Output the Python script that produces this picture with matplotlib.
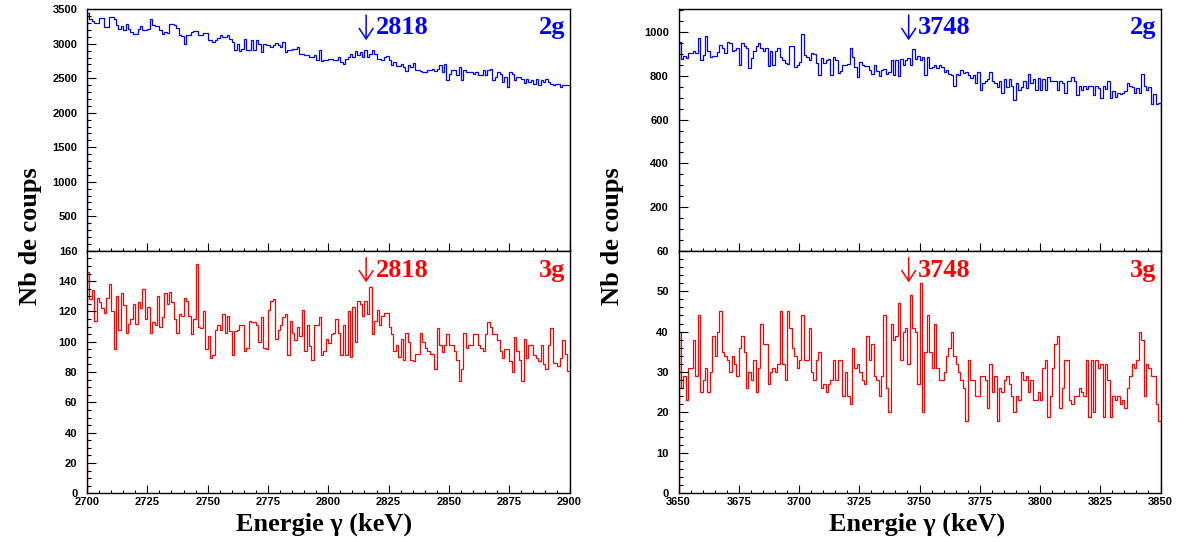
import numpy as np
import matplotlib
matplotlib.use("Agg")
import matplotlib.pyplot as plt
from matplotlib.ticker import MultipleLocator, FixedLocator

# ---------------- data (counts per 1 keV bin) ----------------
range_left = (2700, 2900)
range_right = (3650, 3850)

counts_2g_left = [
    3440, 3364, 3331, 3302, 3302, 3379, 3379, 3244, 3244, 3389,
    3389, 3364, 3268, 3220, 3253, 3195, 3292, 3220, 3171, 3147,
    3147, 3220, 3253, 3205, 3195, 3220, 3364, 3268, 3253, 3253,
    3195, 3147, 3171, 3157, 3292, 3292, 3268, 3234, 3123, 3113,
    2992, 3132, 3132, 3171, 3186, 3186, 3123, 3123, 3157, 3157,
    3050, 3060, 3026, 3060, 3089, 3123, 3099, 3099, 3132, 3075,
    3026, 2906, 3002, 2896, 2930, 3075, 2906, 2906, 3050, 2906,
    3060, 3002, 2881, 3002, 2978, 2978, 2954, 2978, 3012, 2978,
    2954, 3026, 2881, 2906, 2906, 2930, 2930, 2954, 2857, 2857,
    2833, 2833, 2809, 2809, 2833, 2770, 2906, 2751, 2761, 2761,
    2785, 2785, 2761, 2761, 2809, 2736, 2712, 2785, 2809, 2857,
    2809, 2896, 2833, 2881, 2809, 2906, 2809, 2857, 2915, 2857,
    2785, 2785, 2761, 2809, 2819, 2761, 2688, 2736, 2674, 2674,
    2712, 2664, 2606, 2688, 2664, 2722, 2625, 2616, 2606, 2591,
    2591, 2616, 2616, 2640, 2601, 2640, 2688, 2591, 2712, 2471,
    2567, 2616, 2616, 2543, 2664, 2471, 2616, 2591, 2591, 2591,
    2567, 2591, 2543, 2543, 2616, 2543, 2616, 2640, 2471, 2519,
    2591, 2567, 2447, 2519, 2374, 2591, 2567, 2471, 2519, 2519,
    2495, 2432, 2495, 2447, 2471, 2423, 2495, 2398, 2471, 2447,
    2485, 2447, 2423, 2398, 2423, 2423, 2374, 2398, 2398, 2398,
]

counts_3g_left = [
    146, 128, 134, 114, 129, 126, 122, 119, 129, 138,
    120, 95, 130, 108, 132, 124, 106, 112, 115, 125,
    112, 126, 122, 135, 115, 123, 106, 113, 111, 130,
    110, 116, 132, 125, 133, 126, 115, 106, 118, 117,
    129, 127, 117, 105, 115, 151, 110, 109, 120, 95,
    104, 89, 91, 108, 111, 108, 118, 106, 117, 107,
    91, 107, 108, 111, 111, 94, 96, 114, 113, 113,
    111, 100, 116, 96, 95, 121, 127, 128, 102, 108,
    111, 116, 118, 91, 114, 106, 101, 110, 104, 121,
    94, 111, 97, 88, 111, 111, 116, 91, 94, 102,
    99, 105, 106, 115, 106, 91, 111, 91, 120, 90,
    123, 100, 127, 125, 117, 127, 118, 136, 105, 114,
    121, 111, 117, 119, 119, 110, 105, 94, 98, 90,
    102, 88, 106, 100, 88, 87, 92, 92, 106, 100,
    96, 94, 92, 92, 82, 109, 98, 93, 98, 105,
    98, 98, 94, 88, 74, 82, 106, 96, 98, 98,
    105, 105, 98, 96, 94, 105, 113, 110, 105, 105,
    101, 94, 89, 95, 95, 87, 80, 103, 94, 88,
    74, 102, 89, 98, 98, 91, 89, 87, 98, 85,
    82, 98, 109, 86, 86, 84, 89, 101, 92, 81,
]

counts_2g_right = [
    957, 877, 892, 881, 907, 904, 916, 907, 973, 874,
    896, 983, 916, 889, 892, 892, 910, 942, 927, 904,
    957, 953, 912, 919, 927, 851, 950, 935, 927, 836,
    881, 912, 935, 953, 927, 912, 927, 846, 912, 851,
    912, 930, 885, 874, 861, 855, 939, 938, 843, 851,
    866, 991, 896, 885, 871, 904, 901, 861, 805, 881,
    860, 874, 877, 805, 885, 874, 813, 822, 851, 851,
    854, 930, 885, 840, 797, 866, 851, 846, 846, 828,
    810, 851, 821, 800, 828, 831, 810, 820, 871, 805,
    874, 800, 877, 851, 874, 881, 851, 922, 877, 892,
    871, 889, 805, 889, 836, 843, 851, 836, 851, 843,
    820, 828, 810, 805, 755, 810, 805, 828, 813, 820,
    805, 790, 805, 770, 820, 737, 767, 775, 785, 820,
    775, 770, 749, 778, 724, 785, 749, 785, 756, 691,
    770, 737, 749, 775, 744, 810, 770, 785, 737, 790,
    734, 785, 737, 794, 779, 775, 779, 737, 779, 770,
    724, 779, 775, 794, 775, 714, 752, 737, 752, 740,
    755, 752, 714, 755, 744, 698, 756, 740, 778, 698,
    729, 706, 721, 718, 721, 729, 770, 752, 749, 724,
    744, 721, 810, 752, 737, 749, 673, 718, 673, 676,
]

counts_3g_right = [
    40, 26, 29, 23, 31, 31, 38, 29, 44, 25,
    28, 31, 25, 30, 39, 34, 40, 45, 35, 34,
    33, 30, 34, 32, 29, 36, 39, 35, 26, 30,
    28, 33, 25, 31, 42, 37, 37, 27, 30, 31,
    30, 32, 45, 32, 28, 45, 41, 36, 34, 31,
    33, 44, 33, 33, 41, 30, 28, 33, 35, 26,
    27, 25, 27, 28, 33, 28, 33, 33, 24, 30,
    24, 22, 36, 31, 32, 30, 28, 27, 39, 33,
    37, 29, 28, 24, 29, 44, 26, 20, 42, 38,
    39, 47, 33, 40, 41, 32, 49, 41, 40, 27,
    52, 20, 35, 44, 35, 31, 42, 31, 28, 28,
    30, 34, 36, 40, 34, 32, 30, 28, 26, 18,
    33, 28, 28, 24, 24, 29, 29, 28, 21, 32,
    25, 29, 18, 26, 25, 28, 29, 27, 24, 20,
    24, 23, 30, 28, 29, 25, 28, 23, 23, 25,
    23, 31, 33, 19, 24, 31, 37, 39, 21, 26,
    33, 33, 23, 22, 24, 24, 26, 25, 24, 33,
    19, 33, 20, 33, 31, 32, 19, 32, 28, 19,
    24, 23, 24, 22, 23, 21, 26, 29, 32, 31,
    33, 40, 38, 24, 32, 31, 29, 29, 22, 18,
]

peak_left = "2818"
peak_right = "3748"
label_2g = "2g"
label_3g = "3g"
xticks_left = [2700, 2725, 2750, 2775, 2800, 2825, 2850, 2875, 2900]
xticks_right = [3650, 3675, 3700, 3725, 3750, 3775, 3800, 3825, 3850]

# ---------------- figure ----------------
W, H = 1184, 542
fig = plt.figure(figsize=(W / 100, H / 100), dpi=100)

SERIF = ["Liberation Serif", "DejaVu Serif"]
SANS = ["Liberation Sans", "DejaVu Sans"]
NARROW = ["Liberation Sans Narrow", "Liberation Sans", "DejaVu Sans"]


def ax_at(x0, y0, x1, y1):
    return fig.add_axes([x0 / W, 1 - y1 / H, (x1 - x0) / W, (y1 - y0) / H])


def style(ax, rng, xticks, ylim, ymin, ylabels, show_x, color, vals, peak, tag,
          arrow_x, num_x, base_y, arrow_top, arrow_bot):
    edges = np.arange(rng[0], rng[1] + 1, 1)
    ax.stairs(vals, edges, baseline=0, color=color, lw=0.9)
    ax.set_xlim(rng)
    ax.set_ylim(ylim)
    ax.xaxis.set_major_locator(FixedLocator(xticks))
    ax.xaxis.set_minor_locator(MultipleLocator(5))
    ax.yaxis.set_major_locator(FixedLocator(ylabels))
    ax.yaxis.set_minor_locator(MultipleLocator(ymin))
    for s in ax.spines.values():
        s.set_linewidth(1.0)
    ax.tick_params(axis="y", which="major", direction="in", length=6.2, width=0.8,
                   left=True, right=False, pad=7, labelsize=8)
    ax.tick_params(axis="y", which="minor", direction="in", length=3.2, width=0.8,
                   left=True, right=False)
    ax.tick_params(axis="x", which="major", direction="in", length=5.5, width=0.8,
                   bottom=True, top=False, labelbottom=show_x, pad=3, labelsize=8)
    ax.tick_params(axis="x", which="minor", direction="in", length=2.5, width=0.8,
                   bottom=True, top=False)
    for lab in ax.get_yticklabels():
        lab.set_family(SANS)
        lab.set_fontweight("bold")
    for lab in ax.get_xticklabels():
        lab.set_family(NARROW)
        lab.set_fontweight("bold")
    ax.annotate("", xy=(arrow_x, arrow_bot), xytext=(arrow_x, arrow_top),
                xycoords="axes fraction", textcoords="axes fraction",
                arrowprops=dict(arrowstyle="->, head_length=0.75, head_width=0.5",
                                color=color, lw=1.1, shrinkA=0, shrinkB=0))
    ax.text(num_x, base_y, peak, transform=ax.transAxes, color=color,
            fontsize=19, family=SERIF, fontweight="bold", ha="left", va="baseline")
    ax.text(0.991, base_y, tag, transform=ax.transAxes, color=color,
            fontsize=19, family=SERIF, fontweight="bold", ha="right", va="baseline")


BLUE = "#0000ff"
RED = "#ff0000"

ax_tl = ax_at(87, 9.3, 569.5, 250.8)
style(ax_tl, range_left, xticks_left, (0, 3500), 100,
      [500, 1000, 1500, 2000, 2500, 3000, 3500], False, BLUE, counts_2g_left,
      peak_left, label_2g, 0.5785, 0.599, 0.8965, 0.976, 0.872)

ax_bl = ax_at(87, 250.8, 569.5, 493.3)
style(ax_bl, range_left, xticks_left, (0, 160), 5,
      list(range(0, 161, 20)), True, RED, counts_3g_left,
      peak_left, label_3g, 0.5785, 0.599, 0.893, 0.972, 0.870)

ax_tr = ax_at(678.5, 9.3, 1160.5, 250.8)
style(ax_tr, range_right, xticks_right, (0, 1105), 50,
      [200, 400, 600, 800, 1000], False, BLUE, counts_2g_right,
      peak_right, label_2g, 0.4775, 0.497, 0.8965, 0.976, 0.872)

ax_br = ax_at(678.5, 250.8, 1160.5, 493.3)
style(ax_br, range_right, xticks_right, (0, 60), 2,
      list(range(0, 61, 10)), True, RED, counts_3g_right,
      peak_right, label_3g, 0.4775, 0.497, 0.893, 0.972, 0.870)

for xc in (30, 612):
    fig.text(xc / W, 1 - 236 / H, "Nb de coups", rotation=90, ha="center", va="center",
             fontsize=19, family=SERIF, fontweight="bold")
for xc in (324.5, 917):
    fig.text(xc / W, 1 - 531 / H, "Energie \u03b3 (keV)", ha="center", va="baseline",
             fontsize=19, family=SERIF, fontweight="bold")

fig.savefig("out.png", dpi=100)
